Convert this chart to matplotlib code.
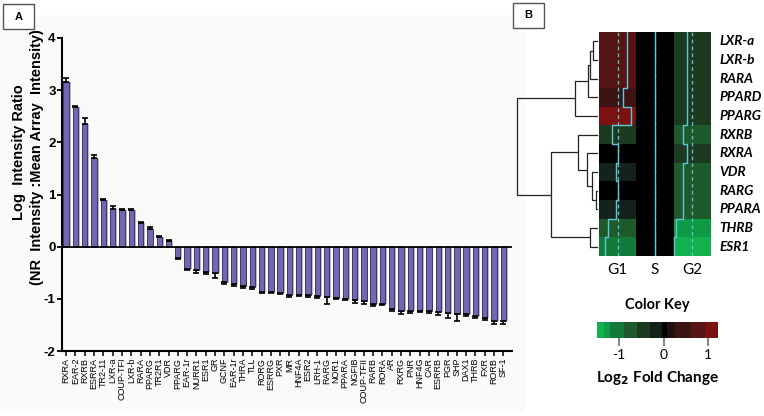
import matplotlib
matplotlib.use("Agg")
import matplotlib.pyplot as plt
import numpy as np
from matplotlib.colors import ListedColormap, BoundaryNorm
from matplotlib.patches import Rectangle

# ---------------- Panel A data ----------------
receptors = ["RXRA", "EAR-2", "RXRB", "ESRRA", "TR2-11", "LXR-a", "COUP-TFI", "LXR-b",
             "RARA", "PPARG", "TR2R1", "VDR", "PPARG", "EAR-1r", "NURR1", "ESR1", "GR",
             "GCNF", "EAR-1r", "THRA", "TLL", "RORG", "ESRRG", "PXR", "MR", "HNF4A", "ESR2",
             "LRH-1", "RARG", "NOR1", "PPARA", "NGFIB", "COUP-TFII", "RARB", "RORA", "AR",
             "RXRG", "PNR", "HNF4G", "CAR", "ESRRB", "PGR", "SHP", "DAX1", "THRB", "FXR",
             "RORB", "SF-1"]
log_ratio = [3.15, 2.67, 2.35, 1.70, 0.90, 0.72, 0.70, 0.70, 0.45, 0.33, 0.18, 0.10,
             -0.21, -0.42, -0.45, -0.48, -0.50, -0.68, -0.72, -0.76, -0.78, -0.86, -0.87,
             -0.89, -0.92, -0.92, -0.93, -0.95, -0.97, -0.99, -1.00, -1.03, -1.04, -1.09,
             -1.10, -1.20, -1.24, -1.24, -1.23, -1.24, -1.26, -1.28, -1.30, -1.30, -1.33,
             -1.36, -1.42, -1.43]
log_err = [0.08, 0.03, 0.12, 0.05, 0.02, 0.06, 0.02, 0.03, 0.02, 0.05, 0.02, 0.03,
           0.03, 0.03, 0.05, 0.04, 0.10, 0.03, 0.03, 0.03, 0.04, 0.02, 0.02, 0.02, 0.04,
           0.03, 0.03, 0.04, 0.12, 0.02, 0.02, 0.05, 0.05, 0.04, 0.02, 0.03, 0.05, 0.04,
           0.03, 0.04, 0.05, 0.08, 0.12, 0.03, 0.03, 0.04, 0.06, 0.05]
y_ticks = [-2, -1, 0, 1, 2, 3, 4]

# ---------------- Panel B data ----------------
genes = ["LXR-a", "LXR-b", "RARA", "PPARD", "PPARG", "RXRB", "RXRA", "VDR", "RARG",
         "PPARA", "THRB", "ESR1"]
groups = ["G1", "S", "G2"]
g1_fc = [0.75, 0.75, 0.75, 0.45, 1.05, -0.45, 0.0, -0.15, 0.0, -0.15, -0.75, -1.05]
s_fc = [0.0] * 12
g2_fc = [-0.45, -0.45, -0.45, -0.45, -0.45, -0.75, -0.45, -0.75, -0.75, -0.75, -1.3, -1.45]
key_colors = ["#12b04f", "#0f9a48", "#137a3c", "#1e5a2c", "#1c3a1f", "#13221a",
              "#000000", "#200f0f", "#3c1414", "#561515", "#7a1212"]
key_bounds = [-1.5, -1.35, -1.2, -0.9, -0.6, -0.3, -0.05, 0.08, 0.25, 0.62, 0.92, 1.22]
key_ticks = [-1, 0, 1]
# row dendrogram merges: (left node, right node, height); leaves 0..11, new nodes 12..
merges = [(0, 1, 4.3), (12, 2, 7.0), (13, 3, 9.5), (14, 4, 22.0),
          (8, 9, 1.5), (7, 16, 5.3), (6, 17, 9.7), (5, 18, 19.0),
          (10, 11, 7.0), (19, 20, 46.0), (15, 21, 80.0)]

W, H = 764, 416
fig = plt.figure(figsize=(W / 100, H / 100), dpi=100)
fig.patch.set_facecolor("white")

def fx(px):
    return px / W

def fy(py):
    return 1 - py / H

# Panel A background
fig.patches.append(Rectangle((fx(0), fy(412)), fx(525), (412 - 15) / H,
                             transform=fig.transFigure, facecolor="#fbfaf8",
                             edgecolor="none", zorder=-10))

# ---------------- Panel A ----------------
axA = fig.add_axes([fx(62), fy(351), fx(512 - 62), (351 - 38) / H])
axA.set_facecolor("none")
x = np.arange(len(receptors))
vals = np.array(log_ratio)
errs = np.array(log_err)
# shadow
axA.bar(x + 0.2, vals, width=0.58, color="#b9b7bf", edgecolor="none", zorder=1)
axA.bar(x, vals, width=0.58, color="#7268b2", edgecolor="#2c2656", linewidth=0.6, zorder=2)
lower = np.where(vals < 0, errs, 0)
upper = np.where(vals > 0, errs, 0)
axA.errorbar(x, vals, yerr=[lower, upper], fmt="none", ecolor="black",
             elinewidth=1.2, capsize=2, capthick=1.2, zorder=3)
axA.axhline(0, color="black", lw=1.3, zorder=4)
axA.set_xlim(-0.45, len(receptors) - 0.07)
axA.set_ylim(-2, 4)
axA.set_yticks(y_ticks)
axA.set_yticklabels([str(t) for t in y_ticks], fontsize=9.5, fontweight="bold",
                    family="Liberation Sans")
axA.set_xticks(x)
axA.set_xticklabels(receptors, rotation=90, fontsize=6.5, family="Liberation Sans")
axA.tick_params(axis="x", length=3.5, width=1.1, pad=1.5)
axA.tick_params(axis="y", length=3.5, width=1.3, pad=1)
for s in ["top", "right"]:
    axA.spines[s].set_visible(False)
for s in ["left", "bottom"]:
    axA.spines[s].set_linewidth(1.5)

fig.text(fx(19), fy(152), "Log  Intensity Ratio", rotation=90, ha="center", va="center",
         fontsize=10.5, fontweight="bold", family="Liberation Sans")
fig.text(fx(37), fy(157), "(NR  Intensity :Mean Array  Intensity)", rotation=90,
         ha="center", va="center", fontsize=10.5, fontweight="bold", family="Liberation Sans")

# panel letter boxes
for (px0, py0, lab) in [(3, 4, "A"), (513, 3, "B")]:
    fig.patches.append(Rectangle((fx(px0), fy(py0 + 25)), fx(31), 25 / H,
                                 transform=fig.transFigure, facecolor="white",
                                 edgecolor="#555555", lw=1.0, zorder=5))
    fig.text(fx(px0 + 15.5), fy(py0 + 12.5), lab, ha="center", va="center",
             fontsize=8, fontweight="bold", family="Liberation Sans", zorder=6)

# ---------------- Panel B heatmap ----------------
cmap = ListedColormap(key_colors)
norm = BoundaryNorm(key_bounds, cmap.N)
mat = np.column_stack([g1_fc, s_fc, g2_fc])
nrow = len(genes)
top, bot = 32, 256
axH = fig.add_axes([fx(599), fy(bot), fx(711 - 599), (bot - top) / H])
axH.pcolormesh(np.arange(4), np.arange(nrow + 1), mat, cmap=cmap, norm=norm)
axH.set_xlim(0, 3)
axH.set_ylim(nrow, 0)
axH.set_xticks([])
axH.set_yticks([])
for s in axH.spines.values():
    s.set_visible(False)
# traces (heatmap.2 style)
smin, smax = -1.5, 1.5
for j in range(3):
    col = mat[:, j]
    axH.axvline(j + (0 - smin) / (smax - smin), color="#5fc6d6", lw=0.9, ls=(0, (3, 2.5)))
    xs, ys = [], []
    for i, v in enumerate(col):
        xv = j + (v - smin) / (smax - smin)
        xs += [xv, xv]
        ys += [i, i + 1]
    axH.plot(xs, ys, color="#5fc6d6", lw=1.0)
for j, g in enumerate(groups):
    axH.text(j + 0.5, nrow + 0.35, g, ha="center", va="top", fontsize=11,
             family="Lato", transform=axH.transData, clip_on=False)
for i, g in enumerate(genes):
    axH.text(3.22, i + 0.5, g, ha="left", va="center", fontsize=9.8, fontweight="bold",
             fontstyle="italic", family="Lato", clip_on=False)

# ---------------- Dendrogram ----------------
axD = fig.add_axes([fx(517), fy(bot), fx(597 - 517), (bot - top) / H])
axD.set_xlim(80, 0)
axD.set_ylim(nrow, 0)
axD.axis("off")
pos = {i: i + 0.5 for i in range(nrow)}
hgt = {i: 0.0 for i in range(nrow)}
for k, (a, b, h) in enumerate(merges):
    node = nrow + k
    axD.plot([hgt[a], h, h, hgt[b]], [pos[a], pos[a], pos[b], pos[b]],
             color="#222222", lw=0.9, solid_joinstyle="miter", clip_on=False)
    pos[node] = (pos[a] + pos[b]) / 2
    hgt[node] = h

# ---------------- Color key ----------------
axK = fig.add_axes([fx(597), fy(338), fx(718 - 597), 16 / H])
kb = np.array(key_bounds)
axK.pcolormesh(kb, [0, 1], ((kb[:-1] + kb[1:]) / 2)[None, :], cmap=cmap, norm=norm)
axK.set_xlim(kb[0], kb[-1])
axK.set_yticks([])
axK.set_xticks(key_ticks)
axK.set_xticklabels([str(t) for t in key_ticks], fontsize=10, family="Lato")
axK.tick_params(axis="x", length=6, color="#888888", width=1.5, pad=2)
for s in axK.spines.values():
    s.set_visible(False)
fig.text(fx(657), fy(305), "Color Key", ha="center", va="center", fontsize=10.5,
         fontweight="bold", family="Lato")
fig.text(fx(657), fy(378), r"Log$_\mathbf{2}$ Fold Change", ha="center", va="center",
         fontsize=11, fontweight="bold", family="Lato")

fig.savefig("out.png", dpi=100, facecolor="white")
